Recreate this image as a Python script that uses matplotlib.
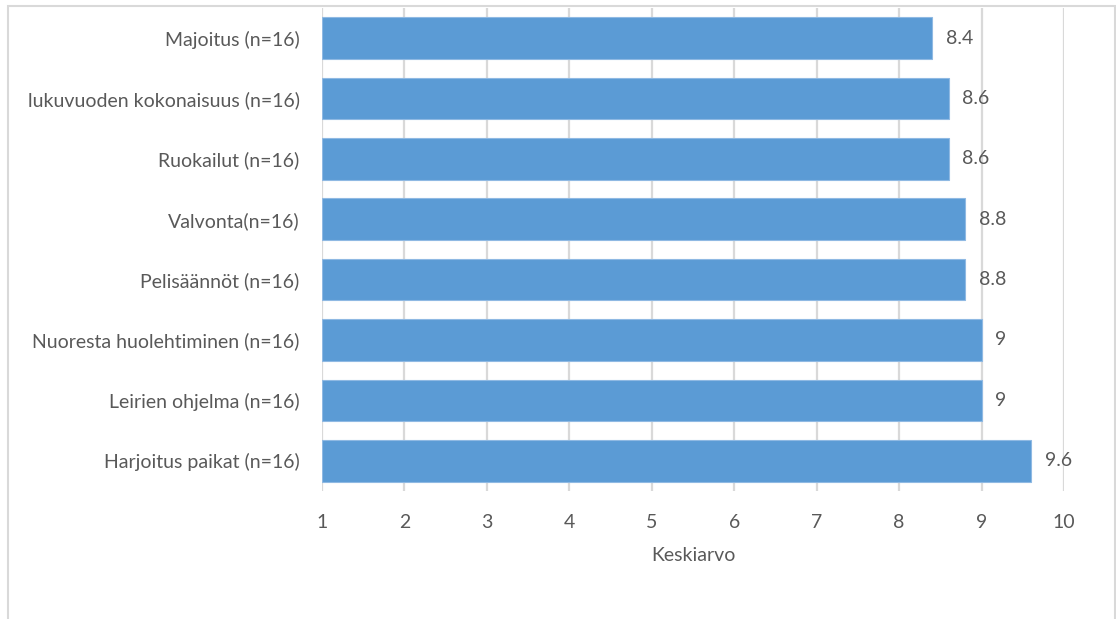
import matplotlib.pyplot as plt
from matplotlib.patches import Rectangle

categories = [
    "Majoitus (n=16)",
    "lukuvuoden kokonaisuus (n=16)",
    "Ruokailut (n=16)",
    "Valvonta(n=16)",
    "Pelisäännöt (n=16)",
    "Nuoresta huolehtiminen (n=16)",
    "Leirien ohjelma (n=16)",
    "Harjoitus paikat (n=16)",
]
values = [8.4, 8.6, 8.6, 8.8, 8.8, 9, 9, 9.6]
ticks = list(range(1, 11))

plt.rcParams["font.family"] = ["Lato", "DejaVu Sans"]
text_color = "#595959"
fs = 14

fig = plt.figure(figsize=(11.16, 6.19), dpi=100)
ax = fig.add_axes([0.2885, 0.207, 0.6649, 0.780])

pos = range(len(categories))
ax.barh(pos, [v - 1 for v in values], left=1, height=0.69,
        color="#5B9BD5", edgecolor="#8FB9E3", linewidth=0.8, zorder=3)

for y, v in zip(pos, values):
    ax.annotate(f"{v:g}", (v, y), xytext=(10, 0), textcoords="offset points",
                ha="left", va="center", fontsize=fs, color=text_color)

ax.set_xlim(1, 10)
ax.set_ylim(len(categories) - 0.5, -0.5)
ax.set_xticks(ticks)
ax.set_xticklabels([str(t) for t in ticks])
ax.set_yticks(list(pos))
ax.set_yticklabels(categories)
ax.grid(axis="x", color="#D9D9D9", linewidth=1.6, zorder=0)
ax.tick_params(axis="x", length=0, pad=17, labelsize=fs, labelcolor=text_color)
ax.tick_params(axis="y", length=0, pad=16, labelsize=fs, labelcolor=text_color)
for s in ax.spines.values():
    s.set_visible(False)
ax.set_xlabel("Keskiarvo", fontsize=fs, color=text_color, labelpad=11)

# light frame around the chart area
fig.patches.append(Rectangle((0.0072, -0.05), 0.9920, 1.04, transform=fig.transFigure,
                             fill=False, edgecolor="#D9D9D9", linewidth=1.5))

fig.savefig("out.png", dpi=100, facecolor="white")
